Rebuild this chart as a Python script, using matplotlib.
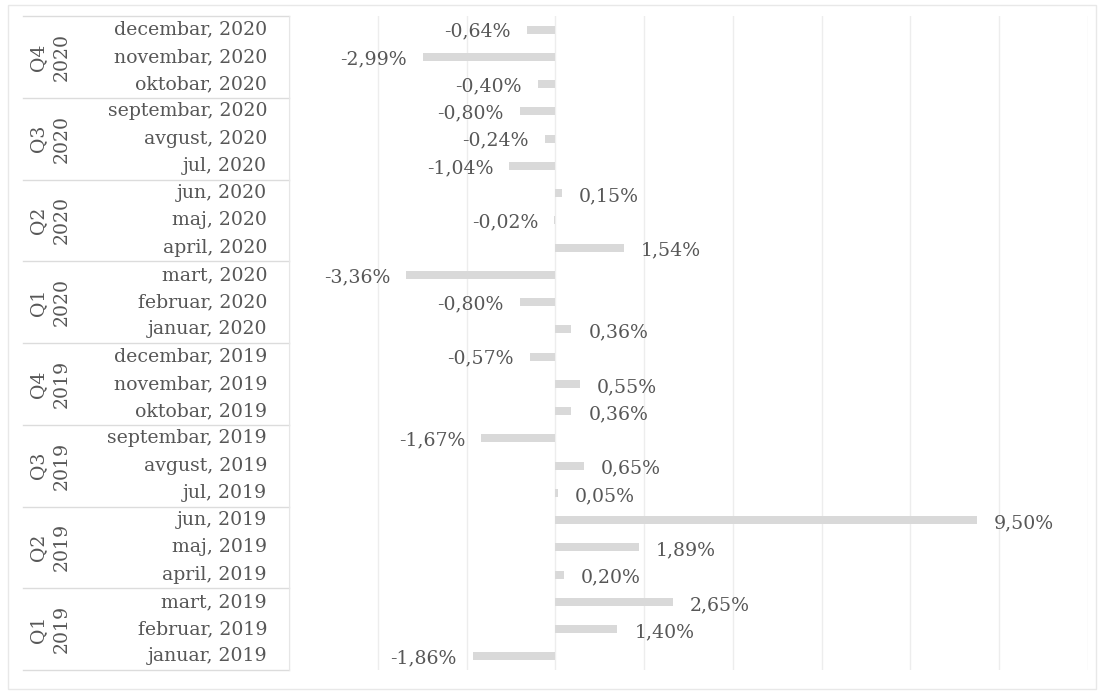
import matplotlib
matplotlib.use("Agg")
import matplotlib.pyplot as plt
import matplotlib.transforms as mtransforms
from matplotlib.patches import Rectangle

# ---- data (top to bottom as shown) ----
months = ["decembar, 2020", "novembar, 2020", "oktobar, 2020",
          "septembar, 2020", "avgust, 2020", "jul, 2020",
          "jun, 2020", "maj, 2020", "april, 2020",
          "mart, 2020", "februar, 2020", "januar, 2020",
          "decembar, 2019", "novembar, 2019", "oktobar, 2019",
          "septembar, 2019", "avgust, 2019", "jul, 2019",
          "jun, 2019", "maj, 2019", "april, 2019",
          "mart, 2019", "februar, 2019", "januar, 2019"]
values = [-0.64, -2.99, -0.40,
          -0.80, -0.24, -1.04,
          0.15, -0.02, 1.54,
          -3.36, -0.80, 0.36,
          -0.57, 0.55, 0.36,
          -1.67, 0.65, 0.05,
          9.50, 1.89, 0.20,
          2.65, 1.40, -1.86]
quarters = ["Q4\n2020", "Q3\n2020", "Q2\n2020", "Q1\n2020",
            "Q4\n2019", "Q3\n2019", "Q2\n2019", "Q1\n2019"]
x_ticks = [-6, -4, -2, 0, 2, 4, 6, 8, 10, 12]

W, H = 1103, 693
fig = plt.figure(figsize=(W / 100, H / 100), dpi=100)
fig.patch.set_facecolor("white")

left_px, right_px, top_px, bot_px = 289, 1088, 16, 670
ax = fig.add_axes([left_px / W, 1 - bot_px / H,
                   (right_px - left_px) / W, (bot_px - top_px) / H])

n = len(months)
ypos = list(range(n))
txt_col = "#575757"
font = "DejaVu Serif"
fs = 13.6

ax.barh(ypos, values, height=0.3, color="#d9d9d9", zorder=2)
ax.set_xlim(x_ticks[0], x_ticks[-1])
ax.set_ylim(n - 0.5, -0.5)
ax.set_xticks(x_ticks)
ax.grid(axis="x", color="#ededed", linewidth=1, zorder=0)
ax.tick_params(left=False, bottom=False, labelleft=False, labelbottom=False)
for s in ["top", "right", "bottom"]:
    ax.spines[s].set_visible(False)
ax.spines["left"].set_color("#e6e6e6")

# value labels
for y, v in zip(ypos, values):
    s = f"{v:.2f}%".replace(".", ",")
    if v >= 0:
        ax.annotate(s, (v, y), xytext=(17, -3), textcoords="offset pixels",
                    ha="left", va="center", fontsize=fs, color=txt_col, family=font)
    else:
        ax.annotate(s, (v, y), xytext=(-16, -2), textcoords="offset pixels",
                    ha="right", va="center", fontsize=fs, color=txt_col, family=font)

# category labels
trans = mtransforms.blended_transform_factory(ax.transAxes, ax.transData)
ax_w = right_px - left_px
for y, m in zip(ypos, months):
    ax.text((267 - left_px) / ax_w, y, m, transform=trans, ha="right", va="center",
            fontsize=fs, color=txt_col, family=font, clip_on=False)

for i, q in enumerate(quarters):
    yc = i * 3 + 1
    ax.text((50 - left_px) / ax_w, yc, q, transform=trans, ha="center", va="center",
            rotation=90, fontsize=fs, color=txt_col, family=font,
            linespacing=1.4, multialignment="center", clip_on=False)

# group separators
for k in range(len(quarters) + 1):
    yb = k * 3 - 0.5
    ax.plot([(23 - left_px) / ax_w, 0], [yb, yb], transform=trans,
            color="#dcdcdc", linewidth=1, clip_on=False)

# outer chart frame
fig.patches.append(Rectangle((8 / W, 4 / H), (1096 - 8) / W, (688 - 4) / H,
                             transform=fig.transFigure, fill=False,
                             edgecolor="#e8e8e8", linewidth=1))

fig.savefig("out.png", dpi=100)
